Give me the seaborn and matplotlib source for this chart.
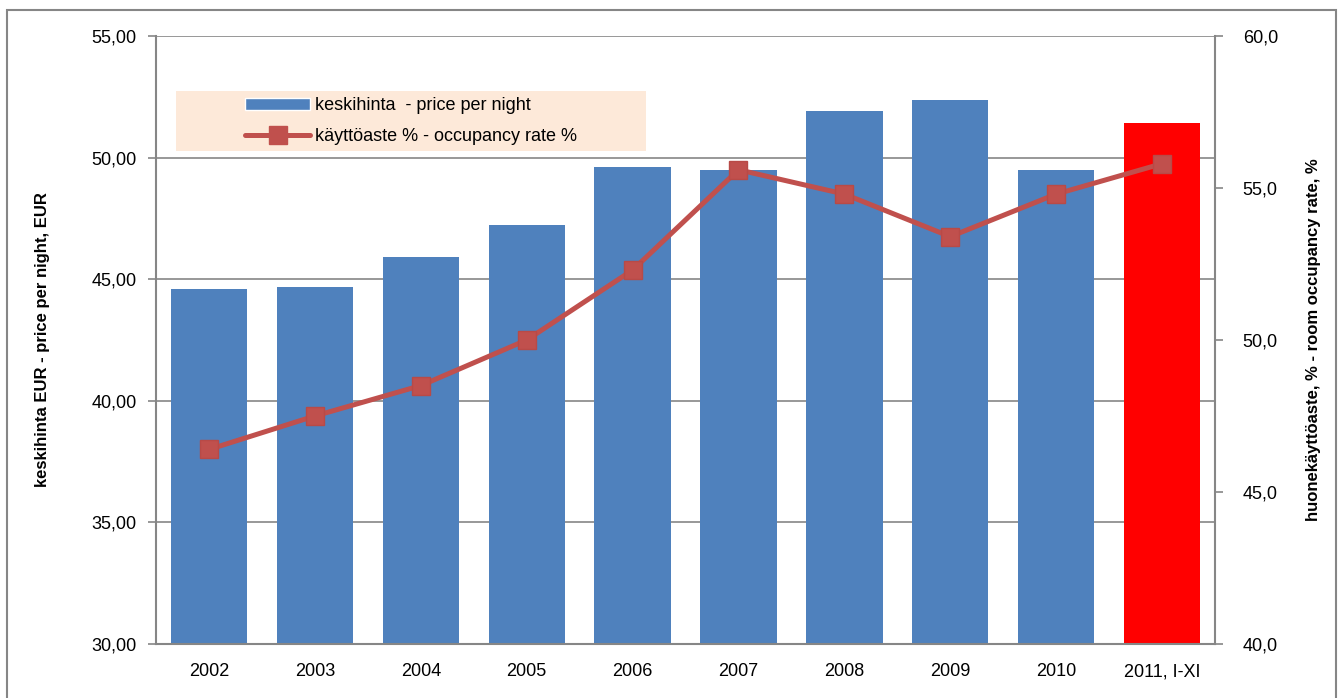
import matplotlib.pyplot as plt
import seaborn as sns
import numpy as np
import pandas as pd
from matplotlib.ticker import FuncFormatter, MultipleLocator
from matplotlib.patches import Rectangle
from matplotlib.lines import Line2D

sns.set_style("white")
plt.rcParams['font.family'] = ['Liberation Sans', 'DejaVu Sans']
plt.rcParams['text.color'] = 'black'
plt.rcParams['axes.labelcolor'] = 'black'
plt.rcParams['xtick.color'] = 'black'
plt.rcParams['ytick.color'] = 'black'

# data
years = ['2002', '2003', '2004', '2005', '2006', '2007', '2008', '2009', '2010', '2011, I-XI']
price = [44.60, 44.68, 45.91, 47.23, 49.61, 49.49, 51.92, 52.37, 49.49, 51.42]
occupancy = [46.4, 47.5, 48.5, 50.0, 52.3, 55.6, 54.8, 53.4, 54.8, 55.8]

bar_colors = ['#4F81BD'] * 9 + ['#FF0000']
gray = '#868686'

df = pd.DataFrame({'year': years, 'price': price})

fig = plt.figure(figsize=(13.43, 6.98), dpi=100)
ax = fig.add_axes([0.1162, 0.0774, 0.7885, 0.8710])

sns.barplot(data=df, x='year', y='price', hue='year', palette=bar_colors,
            legend=False, width=0.72, saturation=1, ax=ax, zorder=2, linewidth=0)
ax.set_ylim(30, 55)
ax.yaxis.set_major_locator(MultipleLocator(5))
ax.yaxis.set_major_formatter(FuncFormatter(lambda v, p: f'{v:.2f}'.replace('.', ',')))
ax.set_xlim(-0.5, len(years) - 0.5)
ax.grid(axis='y', color=gray, linewidth=1.2, zorder=0)
ax.set_axisbelow(True)
ax.set_xlabel('')
ax.set_ylabel('keskihinta EUR - price per night, EUR', fontsize=12, fontweight='bold', labelpad=30)

ax2 = ax.twinx()
ax2.plot(np.arange(len(years)), occupancy, color='#C0504D', linewidth=3.6,
         marker='s', markersize=13, markerfacecolor='#C0504D', markeredgecolor='#B84A47', zorder=3)
ax2.set_ylim(40, 60)
ax2.yaxis.set_major_locator(MultipleLocator(5))
ax2.yaxis.set_major_formatter(FuncFormatter(lambda v, p: f'{v:.1f}'.replace('.', ',')))
ax2.set_ylabel('huonekäyttöaste, % - room occupancy rate, %', fontsize=12, fontweight='bold', labelpad=20)

for a in (ax, ax2):
    for s in a.spines.values():
        s.set_visible(False)
ax.spines['left'].set_visible(True)
ax.spines['bottom'].set_visible(True)
ax2.spines['right'].set_visible(True)
for s in (ax.spines['left'], ax.spines['bottom'], ax2.spines['right']):
    s.set_color(gray)
    s.set_linewidth(1.5)

ax.tick_params(axis='y', direction='out', length=6, color=gray, width=1.2, labelsize=13, pad=8)
ax2.tick_params(axis='y', direction='out', length=6, color=gray, width=1.2, labelsize=13, pad=14)
ax.tick_params(axis='x', direction='out', length=6, color=gray, width=1.2, labelsize=13, pad=14)
ax.set_xticks(np.arange(len(years)))
ax.set_xticklabels(years)
# tick marks between categories like the original
ax.set_xticks(np.arange(len(years) + 1) - 0.5, minor=True)
ax.tick_params(axis='x', which='major', length=0)
ax.tick_params(axis='x', which='minor', direction='out', length=6, color=gray, width=1.2)

# legend background
ax.add_patch(Rectangle((0.0189, 0.811), 0.4438, 0.0985, transform=ax.transAxes,
                       facecolor='#FDE9D9', edgecolor='none', zorder=4))
handles = [Rectangle((0, 0), 1, 1, facecolor='#4F81BD'),
           Line2D([0], [0], color='#C0504D', linewidth=3.6, marker='s', markersize=13)]
leg = ax2.legend(handles, ['keskihinta  - price per night', 'käyttöaste % - occupancy rate %'],
                 loc='center left', bbox_to_anchor=(0.084, 0.860), frameon=False,
                 fontsize=13, handlelength=3.6, handletextpad=0.25, labelspacing=0.75,
                 borderpad=0, borderaxespad=0)
leg.set_zorder(5)

# outer chart border
fig.patches.append(Rectangle((7 / 1343, -0.01), 1329 / 1343, 1 - 10 / 698 + 0.01,
                             transform=fig.transFigure, fill=False,
                             edgecolor=gray, linewidth=1.5))

fig.savefig('out.png', dpi=100)
